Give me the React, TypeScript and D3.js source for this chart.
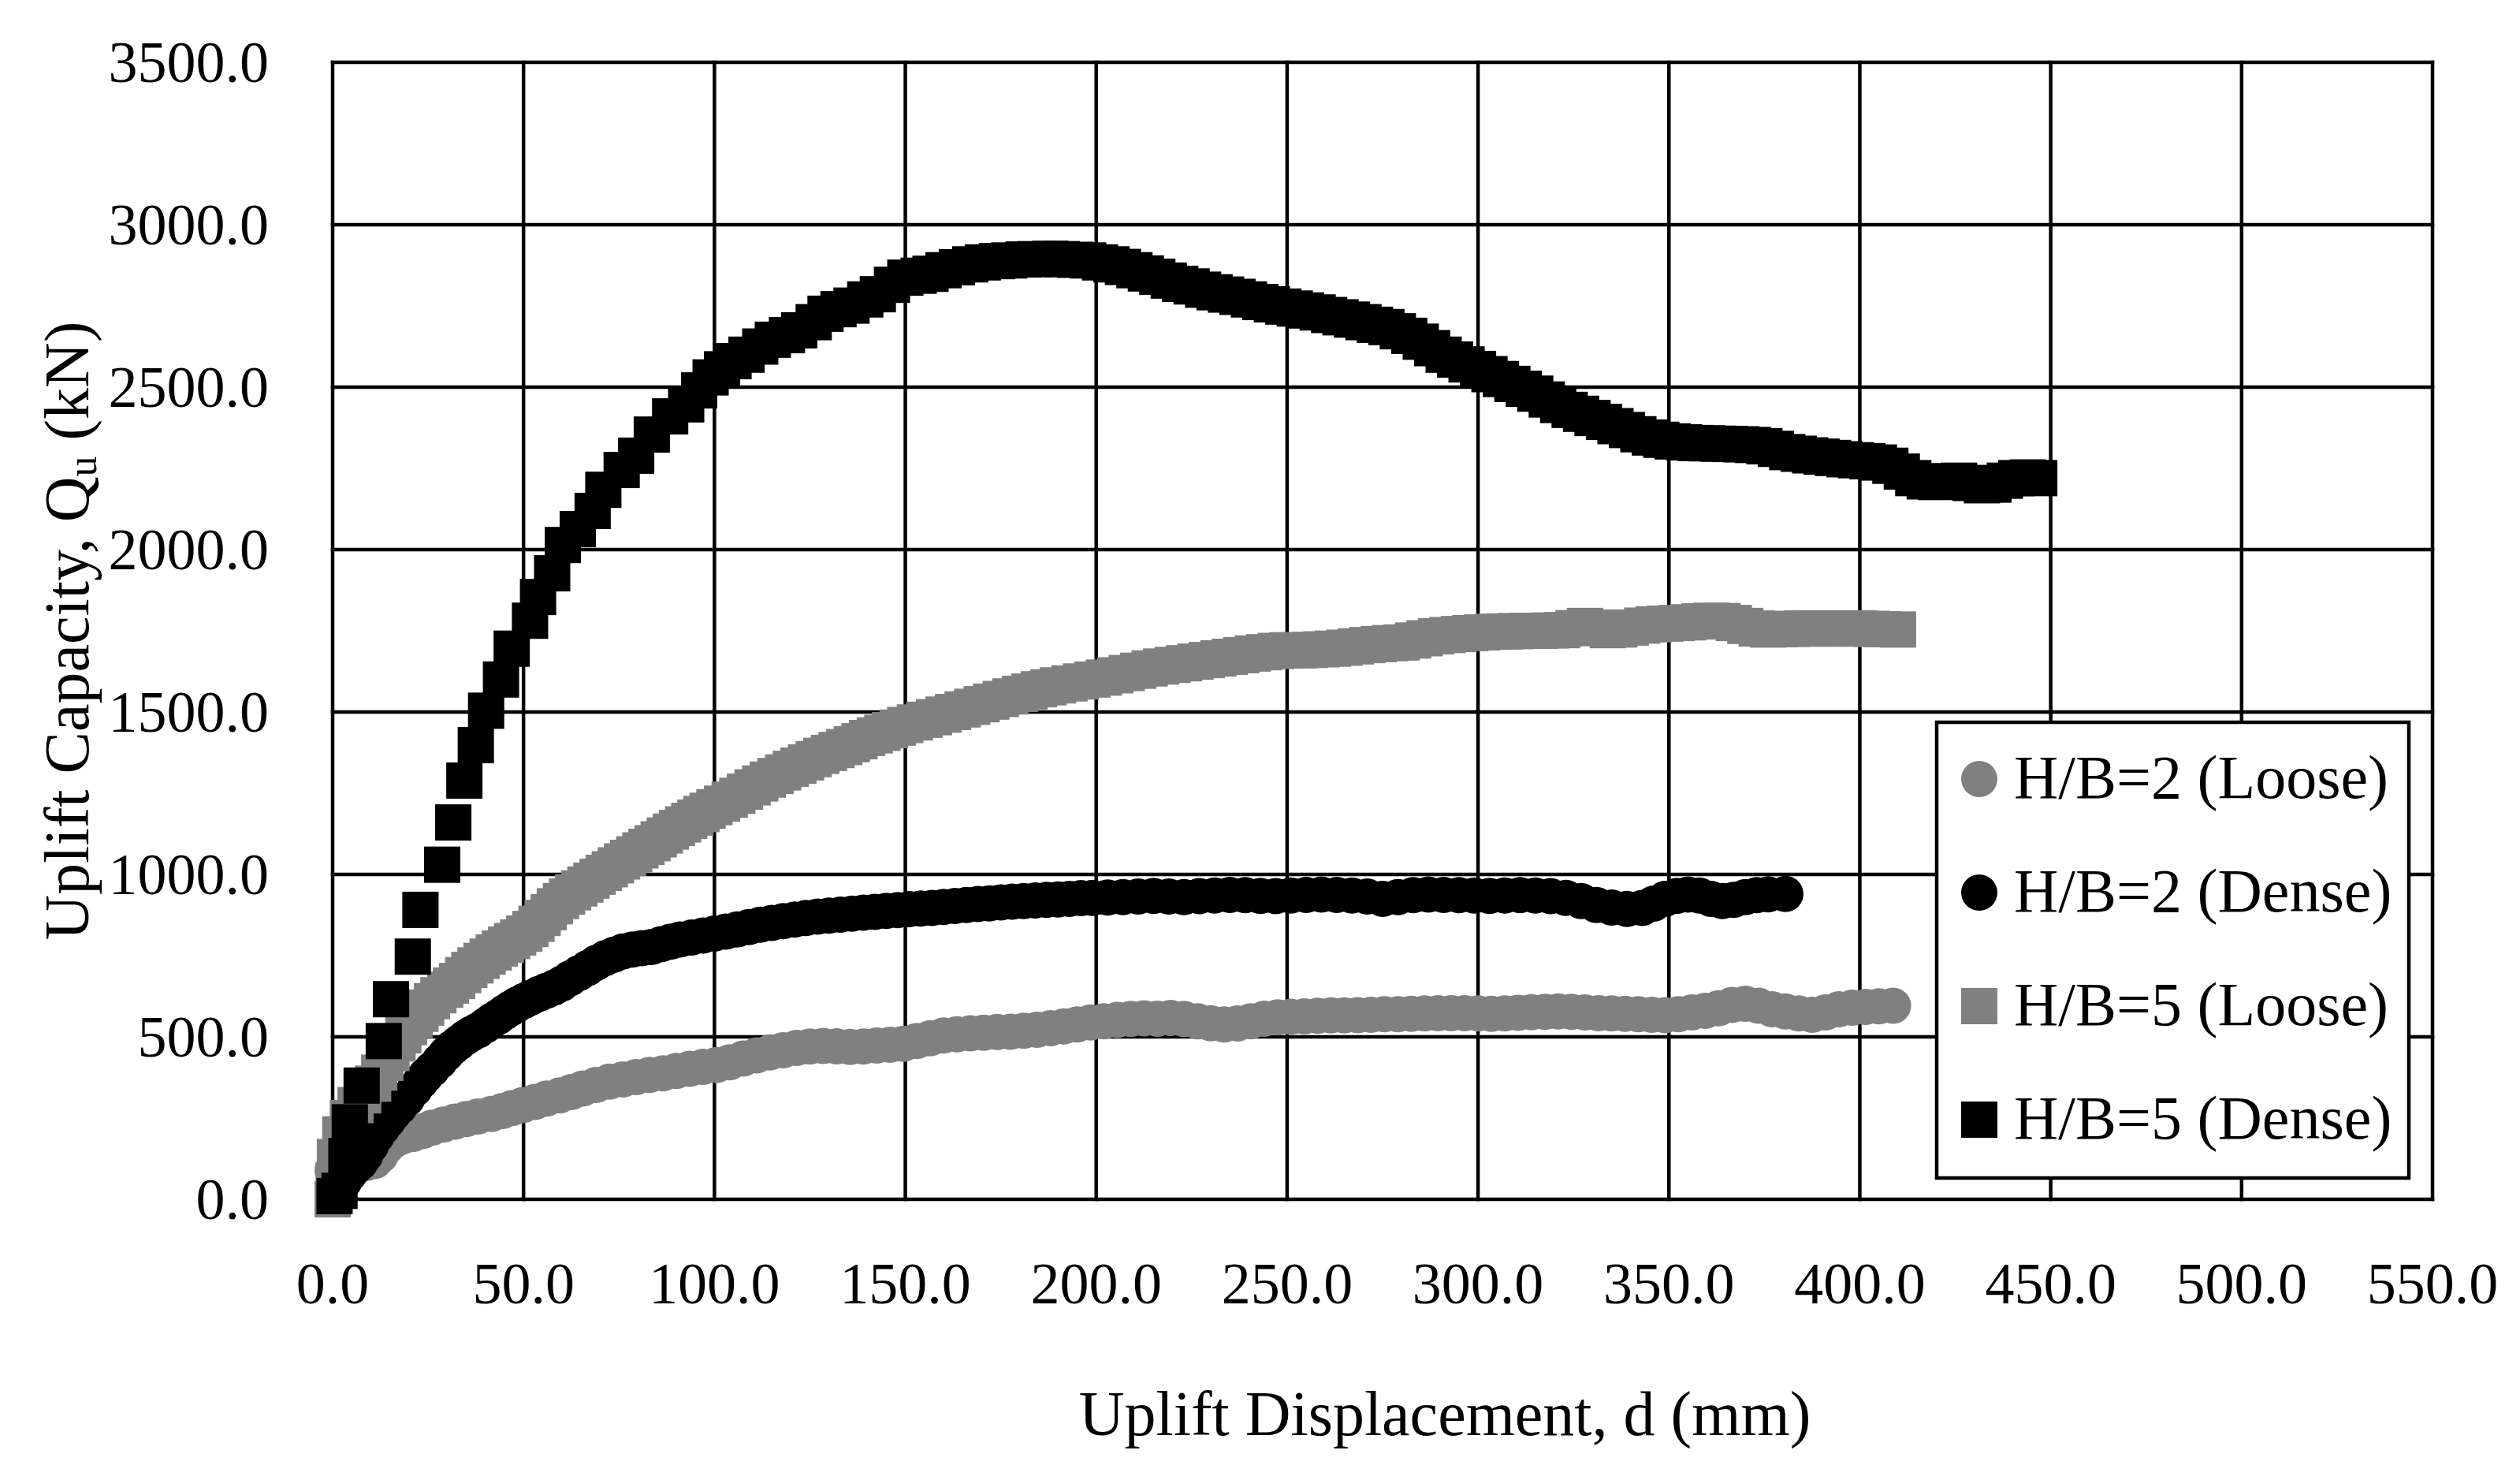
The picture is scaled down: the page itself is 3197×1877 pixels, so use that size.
import React from 'react';
import * as d3 from 'd3';

// values (d in mm, Qu in kN)
const hb2Loose: [number, number][] = [
  [0, 90], [1.5, 95], [3, 100], [5, 105], [7, 108], [9, 112], [11, 118], [12.5, 135], [14, 160], [15.5, 177],
  [17, 188], [18.5, 195], [21, 201], [23.5, 210], [26, 220], [29, 230], [32, 239], [35, 247], [38, 255], [41.6, 263],
  [44.5, 272], [47, 281], [49.8, 290], [53, 300], [56, 310], [59.5, 320], [62.5, 330], [65.5, 341], [69, 352], [72.5, 362],
  [76, 369], [79.5, 376], [83, 383], [86.5, 388], [90, 395], [93.5, 402], [97, 408], [100.5, 413], [104, 422], [107.5, 433],
  [111, 443], [114.5, 452], [118, 459], [121.5, 466], [125, 470], [128.5, 472], [132, 471], [135.5, 469], [139, 470], [142.5, 473],
  [146, 476], [149.5, 479], [153, 487], [156.5, 496], [160, 504], [163.5, 508], [167, 511], [170.5, 513], [174, 515], [177.5, 516],
  [181, 519], [184.5, 522], [188, 527], [191.5, 532], [195, 538], [198.5, 544], [202, 548], [205.5, 552], [209, 555], [212.5, 557],
  [216, 556], [219.5, 558], [223, 555], [226.5, 548], [230, 542], [233.5, 538], [237, 541], [240.5, 548], [244, 556], [247.5, 560],
  [251, 562], [254.5, 563], [258, 565], [261.5, 566], [265, 566], [268.5, 567], [272, 568], [275.5, 570], [279, 570], [282.5, 571],
  [286, 572], [289.5, 573], [293, 573], [296.5, 573], [300, 572], [303.5, 571], [307, 572], [310.5, 574], [314, 576], [317.5, 577],
  [321, 578], [324.5, 577], [328, 575], [331.5, 573], [335, 572], [338.5, 571], [342, 570], [345.5, 568], [349, 567], [352.5, 570],
  [356, 575], [359.5, 580], [363, 588], [366.5, 598], [370, 602], [373.5, 596], [377, 585], [380.5, 578], [384, 572], [387.5, 568],
  [391, 575], [394.5, 585], [398, 590], [401.5, 592], [405, 594], [408.7, 596],
];

const hb2Dense: [number, number][] = [
  [0, 20], [1.5, 35], [3, 55], [4.5, 80], [6, 100], [7.2, 113], [8.5, 135], [10, 165], [11.5, 195], [13, 220],
  [14.5, 242], [16, 265], [17.5, 284], [19.5, 310], [21.5, 340], [23, 362], [24.4, 381], [26, 400], [28, 425], [29.7, 447],
  [31.3, 466], [33, 482], [34.7, 497], [36.4, 510], [38.1, 520], [40, 535], [41.7, 550], [43.4, 562], [45, 575], [46.7, 588],
  [48.4, 600], [50.2, 611], [51.9, 621], [54, 632], [56, 642], [58, 652], [60, 664], [62.2, 680], [64.5, 696], [66.8, 712],
  [69.1, 728], [71.4, 742], [73.7, 753], [76, 763], [78.5, 769], [81, 773], [83.5, 777], [86, 785], [88.5, 793], [91, 800],
  [94, 806], [97, 812], [100, 818], [103, 824], [106, 831], [109, 838], [112, 845], [115, 851], [118, 856], [121, 861],
  [124, 866], [127, 870], [130, 873], [133, 876], [136, 879], [139, 882], [142, 885], [145, 888], [148, 890], [151, 893],
  [154, 895], [157, 897], [160, 900], [163, 903], [166, 906], [169, 909], [172, 911], [175, 914], [178, 916], [181, 918],
  [184, 920], [187, 922], [190, 923], [193, 925], [196, 927], [199, 928], [203, 929], [207, 930], [211, 932], [215, 934],
  [219, 932], [223, 930], [227, 933], [231, 935], [235, 937], [239, 936], [243, 934], [247, 933], [251, 935], [255, 937],
  [259, 938], [263, 937], [267, 935], [271, 932], [275, 925], [279, 930], [283, 936], [287, 938], [291, 937], [295, 936],
  [299, 935], [303, 934], [307, 935], [311, 936], [315, 935], [319, 933], [323, 928], [327, 918], [331, 906], [335, 898],
  [339, 894], [343, 897], [346, 910], [349, 925], [352, 934], [355, 938], [358, 935], [361, 925], [364, 918], [367, 922],
  [370, 930], [373, 936], [376, 939], [380.5, 940],
];

const hb5Loose: [number, number][] = [
  [0, 0], [0.3, 60], [0.6, 130], [2, 200], [4, 250], [6, 290], [8, 320], [10.6, 356], [12.2, 390], [13.8, 420],
  [15.4, 450], [17, 480], [18.5, 505], [20, 530], [21.5, 552], [23, 571], [24.5, 590], [26, 610], [27.7, 628], [29.5, 645],
  [31, 658], [32.6, 672], [34.2, 690], [35.8, 706], [37.4, 720], [39, 734], [40.6, 747], [42.2, 760], [43.8, 772], [45.4, 784],
  [47, 795], [48.6, 806], [50.2, 818], [51.8, 832], [53.4, 848], [55, 866], [56.6, 884], [58.2, 902], [59.8, 918], [61.4, 932],
  [63, 945], [64.6, 957], [66.2, 969], [67.8, 981], [69.4, 993], [71, 1005], [72.6, 1016], [74.2, 1028], [75.8, 1040], [77.4, 1051],
  [79, 1062], [80.6, 1074], [82.2, 1085], [83.8, 1096], [85.4, 1108], [87, 1120], [88.6, 1132], [90.2, 1143], [91.8, 1154], [93.4, 1165],
  [95, 1175], [96.6, 1186], [98.2, 1196], [100, 1207], [102, 1218], [104, 1230], [106, 1242], [108, 1255], [110, 1268], [112, 1280],
  [114, 1292], [116, 1303], [118, 1314], [120, 1325], [122, 1335], [124, 1345], [126, 1355], [128, 1365], [130, 1374], [132, 1383],
  [134, 1392], [136, 1401], [138, 1410], [140, 1420], [142, 1428], [144, 1436], [146, 1444], [148, 1452], [150, 1460], [152.5, 1468],
  [155, 1476], [157.5, 1484], [160, 1492], [162.5, 1500], [165, 1508], [167.5, 1516], [170, 1524], [172.5, 1532], [175, 1540], [177.5, 1548],
  [180, 1556], [182.5, 1563], [185, 1570], [187.5, 1576], [190, 1582], [193, 1588], [196, 1594], [199, 1600], [202, 1606], [205, 1613],
  [208, 1620], [211, 1627], [214, 1634], [217, 1640], [220, 1645], [223, 1650], [226, 1655], [229, 1660], [232, 1665], [235, 1670],
  [238, 1675], [241, 1680], [244, 1684], [247, 1688], [250, 1690], [253, 1690], [256, 1691], [259, 1693], [262, 1695], [265, 1698],
  [268, 1702], [271, 1706], [274, 1709], [277, 1712], [280, 1714], [283, 1720], [286, 1727], [289, 1733], [292, 1737], [295, 1740],
  [298, 1743], [301, 1745], [304, 1747], [307, 1748], [310, 1749], [313, 1750], [316, 1750], [319, 1751], [322, 1752], [325, 1758],
  [328, 1765], [331, 1760], [334, 1752], [337, 1754], [340, 1760], [343, 1766], [346, 1770], [349, 1772], [352, 1774], [355, 1776],
  [358, 1779], [361, 1781], [364, 1780], [367, 1774], [370, 1765], [373, 1757], [376, 1754], [379, 1755], [382, 1756], [385, 1757],
  [388, 1757], [391, 1757], [394, 1757], [397, 1757], [400, 1757], [403, 1756], [406, 1755], [410, 1754],
];

const hb5Dense: [number, number][] = [
  [0.5, 10], [1.8, 26], [3.6, 133], [4.5, 237], [7.6, 350], [13.4, 487], [15.3, 616], [21, 747], [23, 891], [28.7, 1030],
  [31.6, 1160], [34.5, 1289], [37.5, 1398], [40.2, 1504], [44.1, 1600], [46.9, 1695], [51.7, 1781], [53.8, 1854], [57.5, 1927], [60.3, 2014],
  [64.2, 2063], [68.1, 2119], [70.9, 2184], [75.7, 2245], [79.5, 2289], [83.6, 2354], [88.4, 2410], [92.6, 2447], [96, 2490], [99, 2530],
  [102, 2555], [105, 2580], [108.4, 2600], [112, 2625], [115.3, 2646], [119, 2660], [122.2, 2675], [126, 2700], [129.1, 2726], [132.5, 2740],
  [135.9, 2751], [139.5, 2770], [142.8, 2786], [146.5, 2815], [150, 2837], [153.5, 2843], [156.6, 2849], [160, 2860], [163.5, 2869], [167, 2878],
  [170.3, 2884], [174, 2888], [177.2, 2890], [181, 2893], [184.1, 2894], [188, 2895], [191, 2894], [194.5, 2892], [197.9, 2890], [201, 2884],
  [204, 2878], [207, 2870], [210, 2860], [213, 2850], [216, 2840], [219, 2828], [222, 2818], [225, 2810], [228, 2800], [231, 2792],
  [234, 2785], [237, 2778], [240, 2770], [243, 2762], [246, 2755], [249, 2748], [252, 2742], [255, 2736], [258, 2730], [261, 2722],
  [264, 2715], [267, 2708], [270, 2700], [273, 2692], [276, 2685], [279, 2672], [282, 2658], [285, 2640], [288, 2620], [291, 2600],
  [294, 2585], [297, 2570], [300, 2556], [303, 2540], [306, 2525], [309, 2510], [312, 2495], [315, 2480], [318, 2462], [321, 2445],
  [324, 2430], [327, 2418], [330, 2405], [333, 2393], [336, 2380], [339, 2368], [342, 2355], [345, 2345], [348, 2338], [351, 2333],
  [354, 2330], [357, 2328], [360, 2327], [363, 2326], [366, 2325], [369, 2324], [372, 2322], [375, 2318], [378, 2310], [381, 2300],
  [384, 2295], [387, 2290], [390, 2286], [393, 2282], [396, 2278], [399, 2275], [402, 2272], [405, 2268], [408, 2258], [411, 2240],
  [414, 2220], [417, 2210], [420, 2208], [423, 2210], [426, 2212], [429, 2205], [432, 2198], [435, 2200], [438, 2212], [441, 2220],
  [444, 2222], [447, 2220],
];

const xTickValues = [0, 50, 100, 150, 200, 250, 300, 350, 400, 450, 500, 550];
const yTickValues = [0, 500, 1000, 1500, 2000, 2500, 3000, 3500];
const seriesNames = ['H/B=2 (Loose)', 'H/B=2 (Dense)', 'H/B=5 (Loose)', 'H/B=5 (Dense)'];

const GRAY = '#808080';
const FONT = '"Liberation Serif", "Times New Roman", serif';
const MARK = 46;

const series = [
  { name: seriesNames[0], data: hb2Loose, color: GRAY, shape: 'circle' },
  { name: seriesNames[1], data: hb2Dense, color: '#000', shape: 'circle' },
  { name: seriesNames[2], data: hb5Loose, color: GRAY, shape: 'square' },
  { name: seriesNames[3], data: hb5Dense, color: '#000', shape: 'square' },
];

const Marker = ({ cx, cy, shape, color }: { cx: number; cy: number; shape: string; color: string }) =>
  shape === 'circle'
    ? <circle cx={cx} cy={cy} r={MARK / 2} fill={color} />
    : <rect x={cx - MARK / 2} y={cy - MARK / 2} width={MARK} height={MARK} fill={color} />;

export default function App() {
  const width = 3197;
  const height = 1877;

  const x = d3.scaleLinear().domain([0, 550]).range([422, 3086]);
  const y = d3.scaleLinear().domain([0, 3500]).range([1521, 79]);
  const fmt = d3.format('.1f');

  const legendX = 2457;
  const legendY = 916;

  return (
    <svg width={width} height={height} style={{ position: 'absolute', left: 0, top: 0, background: '#fff' }}
      fontFamily={FONT}>
      <rect width={width} height={height} fill="#fff" />

      {/* grid + frame */}
      <g stroke="#000" strokeWidth={4.5} strokeLinecap="square">
        {xTickValues.map(t => (
          <line key={'gx' + t} x1={x(t)} x2={x(t)} y1={y(0)} y2={y(3500)} />
        ))}
        {yTickValues.map(t => (
          <line key={'gy' + t} x1={x(0)} x2={x(550)} y1={y(t)} y2={y(t)} />
        ))}
      </g>

      {/* tick labels */}
      {yTickValues.map(t => (
        <text key={'ly' + t} x={341} y={y(t) + 25} textAnchor="end" fontSize={74}>{fmt(t)}</text>
      ))}
      {xTickValues.map(t => (
        <text key={'lx' + t} x={x(t)} y={1653} textAnchor="middle" fontSize={74}>{fmt(t)}</text>
      ))}

      {/* data */}
      {series.map(s => (
        <g key={s.name}>
          {s.data.map((d, i) => (
            <Marker key={i} cx={x(d[0])} cy={y(d[1])} shape={s.shape} color={s.color} />
          ))}
        </g>
      ))}

      {/* axis titles */}
      <text x={1833} y={1820} textAnchor="middle" fontSize={80}>Uplift Displacement, d (mm)</text>
      <text transform="translate(112, 800) rotate(-90)" textAnchor="middle" fontSize={80}>
        Uplift Capacity, Q<tspan fontSize={52} dy={10}>u</tspan><tspan dy={-10}> (kN)</tspan>
      </text>

      {/* legend */}
      <rect x={legendX} y={legendY} width={599} height={578} fill="#fff" stroke="#000" strokeWidth={4.5} />
      {series.map((s, i) => {
        const base = 1012 + i * 144;
        return (
          <g key={'leg' + s.name}>
            <Marker cx={2511} cy={base - 24} shape={s.shape} color={s.color} />
            <text x={2555} y={base} fontSize={78}>{s.name}</text>
          </g>
        );
      })}
    </svg>
  );
}
